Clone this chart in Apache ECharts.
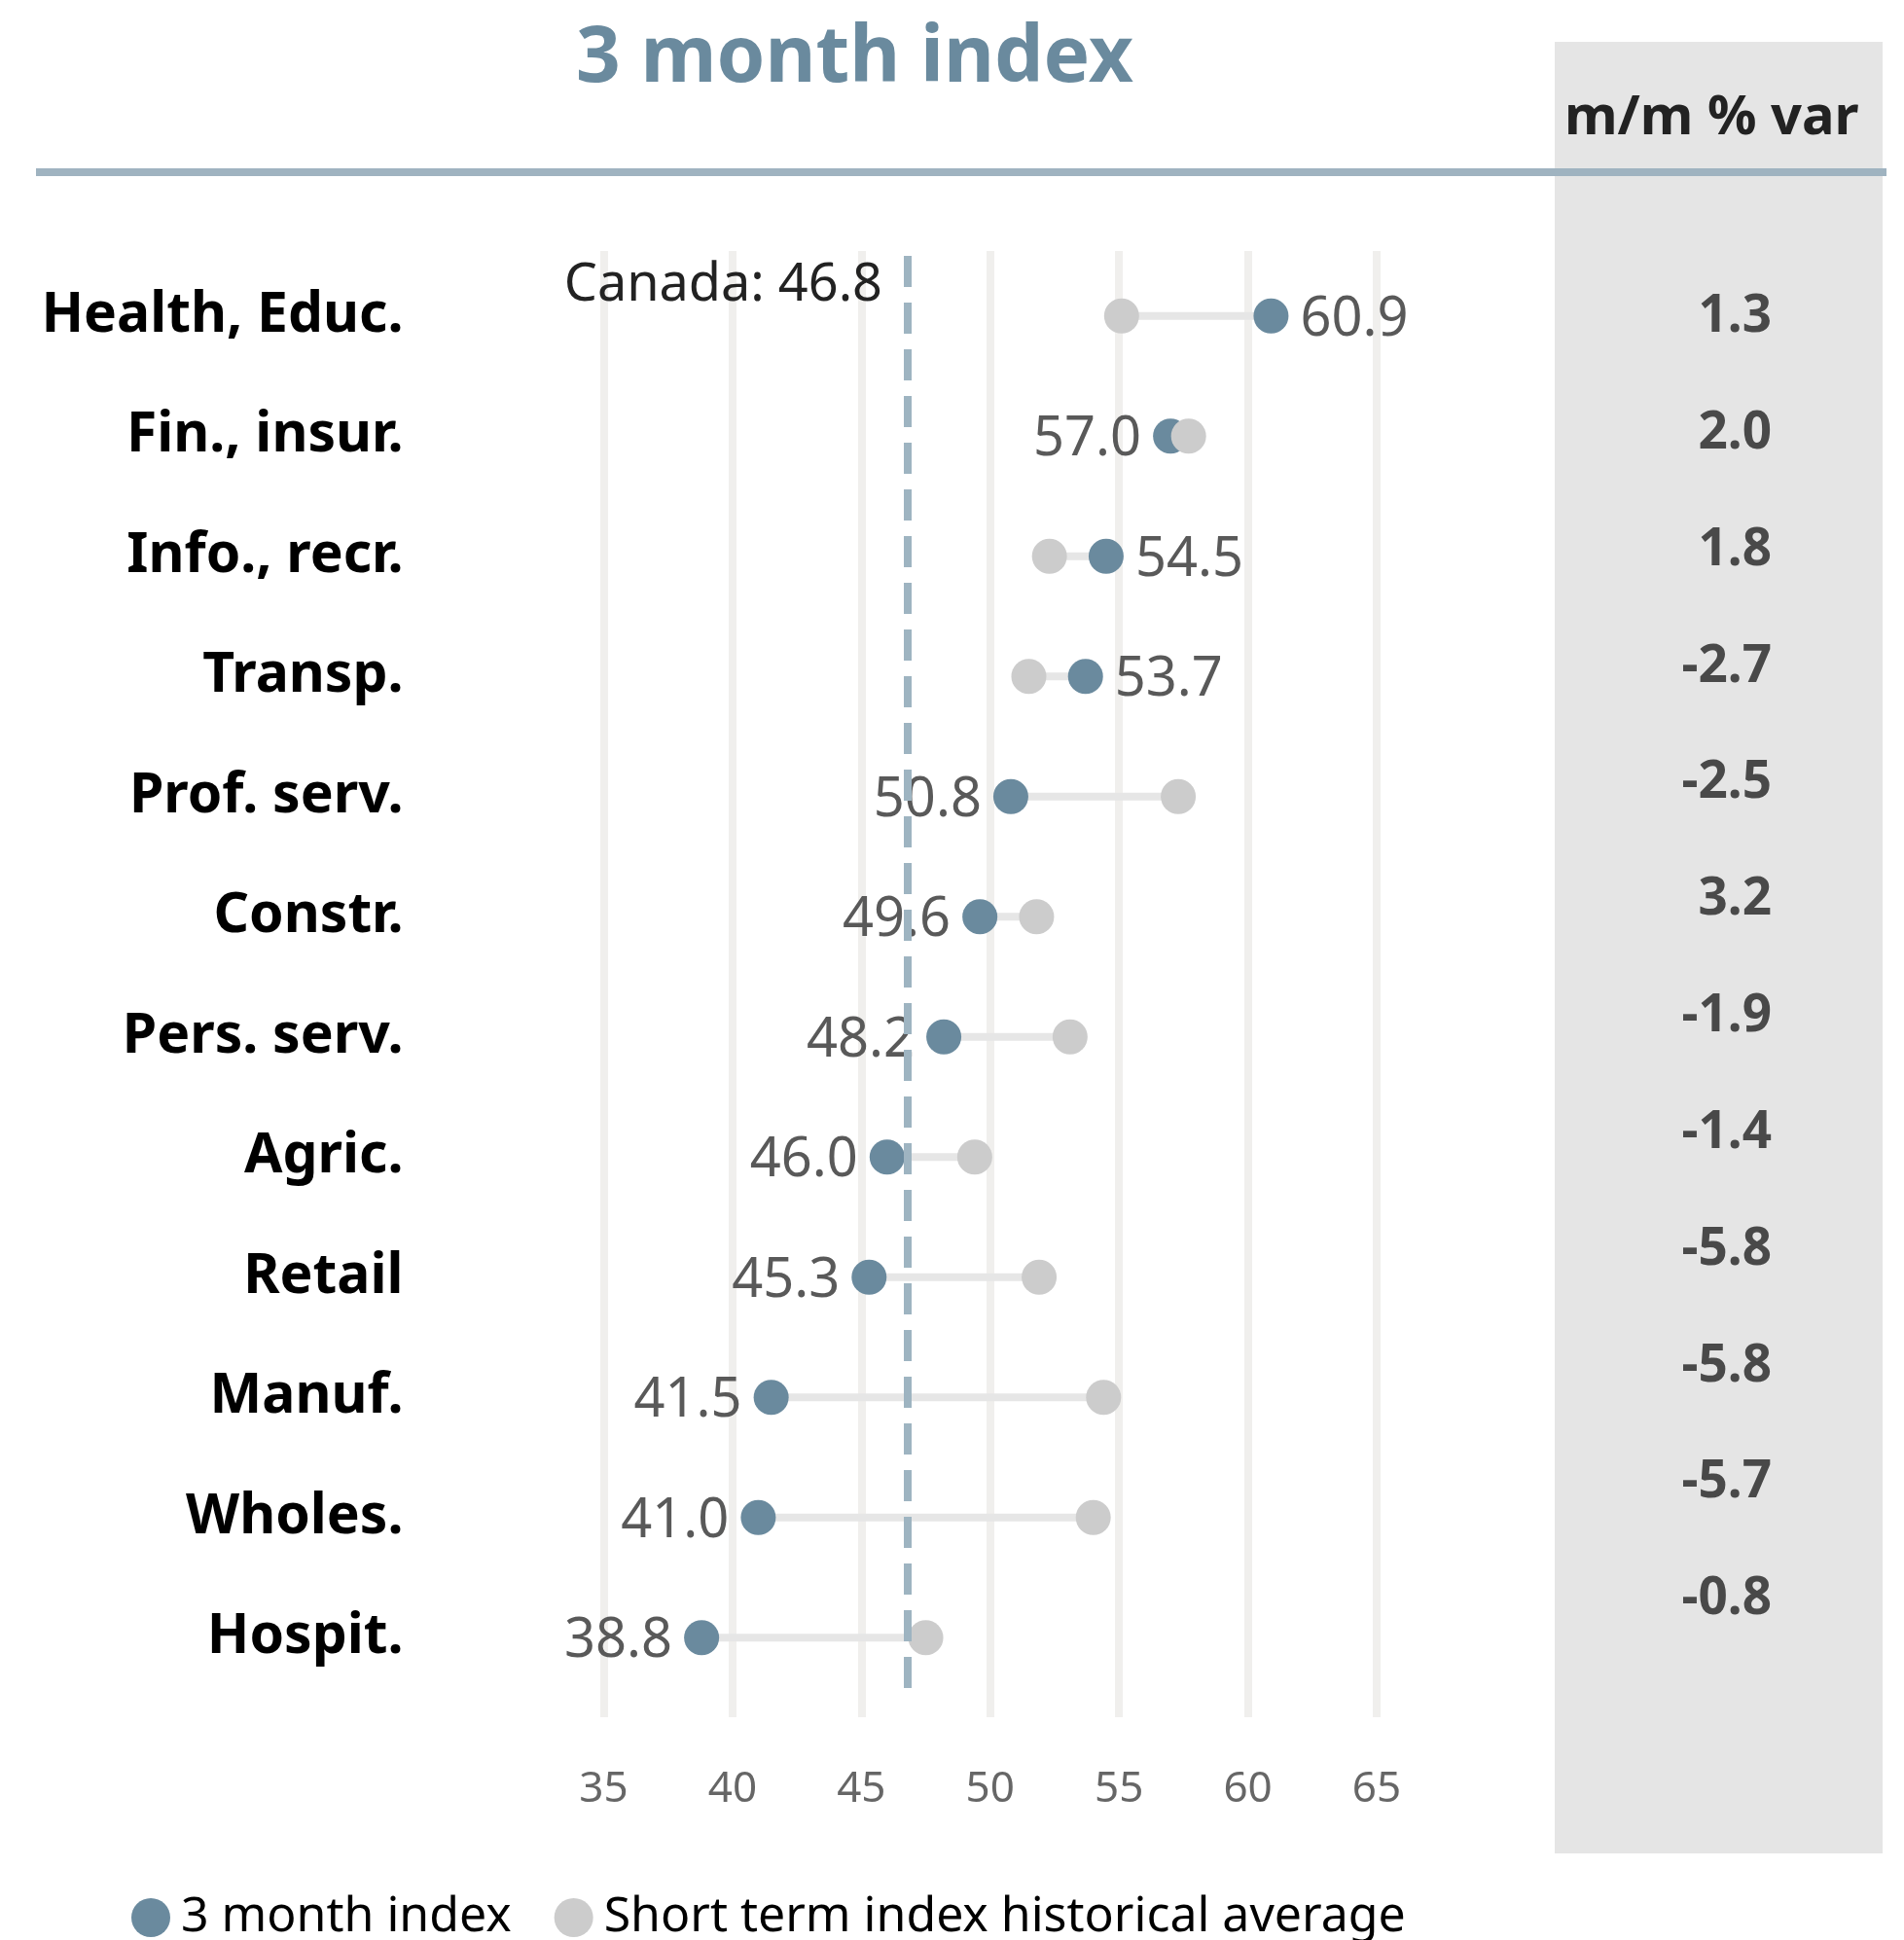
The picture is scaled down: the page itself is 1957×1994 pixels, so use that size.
<!DOCTYPE html>
<html>
<head>
<meta charset="utf-8">
<script src="https://cdn.jsdelivr.net/npm/echarts@6/dist/echarts.min.js"></script>
<style>
  html, body { margin: 0; padding: 0; background: #fff; }
  #main { width: 1957px; height: 1994px; }
</style>
</head>
<body>
<div id="main"></div>
<script>
// data
const categories = ['Health, Educ.', 'Fin., insur.', 'Info., recr.', 'Transp.', 'Prof. serv.', 'Constr.',
  'Pers. serv.', 'Agric.', 'Retail', 'Manuf.', 'Wholes.', 'Hospit.']
const threeMonth = [60.9, 57.0, 54.5, 53.7, 50.8, 49.6, 48.2, 46.0, 45.3, 41.5, 41.0, 38.8]
const histAverage = [55.1, 57.7, 52.3, 51.5, 57.3, 51.8, 53.1, 49.4, 51.9, 54.4, 54.0, 47.5]
const mmVar = [1.3, 2.0, 1.8, -2.7, -2.5, 3.2, -1.9, -1.4, -5.8, -5.8, -5.7, -0.8]
const canadaValue = 46.8
const xTicks = [35, 40, 45, 50, 55, 60, 65]

const FONT = 'Noto Sans'
const BLUE = '#6a8a9e'
const GREY = '#cccccc'

const myChart = echarts.init(document.getElementById('main'))

const blueData = threeMonth.map(function(v, i) {
  return {
    value: [v, i],
    label: { position: v >= histAverage[i] ? 'right' : 'left' }
  }
})

const option = {
  animation: false,
  textStyle: { fontFamily: FONT },
  title: [
    {
      text: '3 month index',
      left: 587,
      top: 16,
      textStyle: { color: BLUE, fontSize: 80, fontWeight: 'bold', fontFamily: FONT }
    },
    {
      text: 'm/m % var',
      left: 1603,
      top: 89,
      textStyle: { color: '#222', fontSize: 56, fontWeight: 'bold', fontFamily: FONT }
    }
  ],
  graphic: [
    {
      type: 'rect',
      z: 0,
      shape: { x: 1598, y: 43, width: 337, height: 1862 },
      style: { fill: '#e5e5e5' }
    },
    {
      type: 'line',
      z: 1,
      shape: { x1: 37, y1: 177, x2: 1939, y2: 177 },
      style: { stroke: '#9fb3c0', lineWidth: 8 }
    }
  ],
  legend: {
    data: ['3 month index', 'Short term index historical average'],
    left: 130,
    top: 1941,
    icon: 'circle',
    itemWidth: 40,
    itemHeight: 40,
    itemGap: 44,
    textStyle: { fontSize: 50, color: '#000', fontFamily: FONT, padding: [0, 0, 0, 6] }
  },
  grid: [
    { left: 620.5, width: 794.5, top: 263, height: 1482 },
    { left: 620.5, width: 794.5, top: 258, height: 1507 },
    { left: 1600, width: 221, top: 262, height: 1438 }
  ],
  xAxis: [
    { gridIndex: 0, type: 'value', min: 35, max: 65, interval: 5, show: false, splitLine: { show: false } },
    {
      gridIndex: 1, type: 'value', min: xTicks[0], max: xTicks[xTicks.length - 1], interval: 5,
      axisLine: { show: false }, axisTick: { show: false },
      axisLabel: { fontSize: 44, color: '#666', margin: 52, fontFamily: FONT },
      splitLine: { show: true, lineStyle: { color: '#f0efed', width: 8 } }
    },
    { gridIndex: 2, type: 'value', min: 0, max: 1, show: false, splitLine: { show: false } }
  ],
  yAxis: [
    {
      gridIndex: 0, type: 'category', inverse: true, data: categories,
      axisLine: { show: false }, axisTick: { show: false },
      axisLabel: {
        fontSize: 57, fontWeight: 'bold', color: '#000', margin: 206, fontFamily: FONT,
        padding: [9, 0, 0, 0]
      }
    },
    { gridIndex: 1, type: 'value', min: 0, max: 1, show: false, splitLine: { show: false } },
    { gridIndex: 2, type: 'category', inverse: true, data: categories, show: false }
  ],
  series: [
    {
      // connector between the two dots
      type: 'custom',
      xAxisIndex: 0,
      yAxisIndex: 0,
      silent: true,
      data: threeMonth.map(function(v, i) { return [i, histAverage[i], v] }),
      encode: { x: [1, 2], y: 0 },
      renderItem: function(params, api) {
        const p1 = api.coord([api.value(1), api.value(0)])
        const p2 = api.coord([api.value(2), api.value(0)])
        return {
          type: 'line',
          shape: { x1: p1[0], y1: p1[1], x2: p2[0], y2: p2[1] },
          style: { stroke: '#e6e6e6', lineWidth: 8 }
        }
      },
      z: 1
    },
    {
      name: '3 month index',
      type: 'scatter',
      xAxisIndex: 0,
      yAxisIndex: 0,
      symbolSize: 36,
      itemStyle: { color: BLUE, opacity: 1 },
      label: {
        show: true,
        distance: 12,
        offset: [0, 4],
        fontSize: 56,
        color: '#595959',
        fontFamily: FONT,
        formatter: function(p) { return p.value[0].toFixed(1) }
      },
      data: blueData,
      markLine: {
        silent: true,
        symbol: 'none',
        label: { show: false },
        lineStyle: { color: '#9eb4c1', width: 8, type: [32, 16] },
        data: [{ xAxis: canadaValue }]
      },
      markPoint: {
        silent: true,
        symbol: 'circle',
        symbolSize: 0,
        label: {
          show: true,
          position: 'left',
          distance: 26,
          offset: [0, -31],
          fontSize: 54,
          color: '#222',
          fontFamily: FONT,
          formatter: 'Canada: ' + canadaValue.toFixed(1)
        },
        data: [{ coord: [canadaValue, 0] }]
      },
      z: 3
    },
    {
      name: 'Short term index historical average',
      type: 'scatter',
      xAxisIndex: 0,
      yAxisIndex: 0,
      symbolSize: 36,
      itemStyle: { color: GREY, opacity: 1 },
      data: histAverage.map(function(v, i) { return [v, i] }),
      z: 4
    },
    {
      name: 'm/m',
      type: 'scatter',
      xAxisIndex: 2,
      yAxisIndex: 2,
      symbolSize: 0,
      silent: true,
      label: {
        show: true,
        position: 'left',
        distance: 0,
        offset: [0, 4],
        fontSize: 53,
        fontWeight: 'bold',
        color: '#222',
        fontFamily: FONT,
        formatter: function(p) { return mmVar[p.dataIndex].toFixed(1) }
      },
      data: mmVar.map(function(v, i) { return [1, i] })
    }
  ]
}

myChart.setOption(option)
</script>
</body>
</html>
